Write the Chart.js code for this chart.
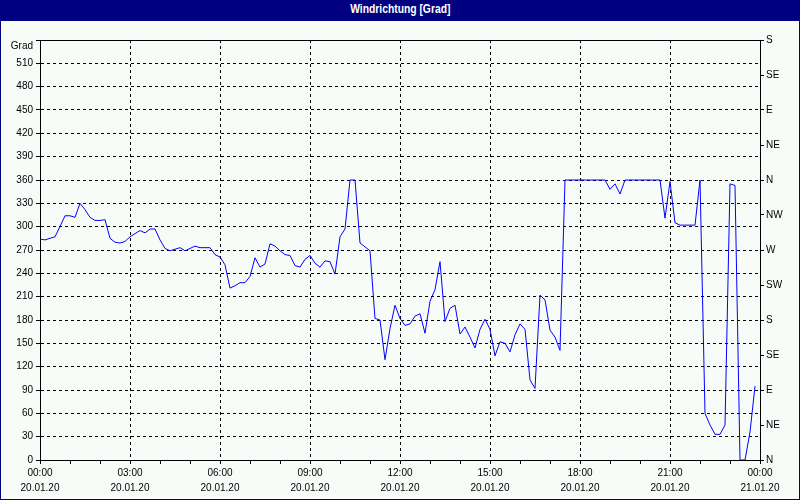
<!DOCTYPE html>
<html><head><meta charset="utf-8">
<script src="https://cdn.jsdelivr.net/npm/chart.js@4"></script>
<style>
html,body{margin:0;padding:0;background:#F8FCF8;}
#wrap{position:relative;width:800px;height:500px;overflow:hidden;background:#F8FCF8;}
#frame{position:absolute;left:0;top:0;width:798px;height:499px;border:1px solid #000080;border-top:none;pointer-events:none;}
#title{position:absolute;left:0;top:0;width:800px;height:21px;background:#000080;color:#fff;font:bold 12px "Liberation Sans",sans-serif;text-align:center;line-height:19px;}
#title span{display:inline-block;transform:scaleX(0.86);transform-origin:50% 50%;}
canvas{position:absolute;left:0;top:0;}
</style></head>
<body>
<div id="wrap"><canvas id="c" width="800" height="500"></canvas><div id="frame"></div><div id="title"><span>Windrichtung [Grad]</span></div></div>
<script>
const timeLabels = [
"00:00","00:10","00:20","00:30","00:40","00:50","01:00","01:10","01:20","01:30","01:40","01:50",
"02:00","02:10","02:20","02:30","02:40","02:50","03:00","03:10","03:20","03:30","03:40","03:50",
"04:00","04:10","04:20","04:30","04:40","04:50","05:00","05:10","05:20","05:30","05:40","05:50",
"06:00","06:10","06:20","06:30","06:40","06:50","07:00","07:10","07:20","07:30","07:40","07:50",
"08:00","08:10","08:20","08:30","08:40","08:50","09:00","09:10","09:20","09:30","09:40","09:50",
"10:00","10:10","10:20","10:30","10:40","10:50","11:00","11:10","11:20","11:30","11:40","11:50",
"12:00","12:10","12:20","12:30","12:40","12:50","13:00","13:10","13:20","13:30","13:40","13:50",
"14:00","14:10","14:20","14:30","14:40","14:50","15:00","15:10","15:20","15:30","15:40","15:50",
"16:00","16:10","16:20","16:30","16:40","16:50","17:00","17:10","17:20","17:30","17:40","17:50",
"18:00","18:10","18:20","18:30","18:40","18:50","19:00","19:10","19:20","19:30","19:40","19:50",
"20:00","20:10","20:20","20:30","20:40","20:50","21:00","21:10","21:20","21:30","21:40","21:50",
"22:00","22:10","22:20","22:30","22:40","22:50","23:00","23:10","23:20","23:30","23:40","23:50",
"00:00"];
const majorTimeLabels = ["00:00","03:00","06:00","09:00","12:00","15:00","18:00","21:00","00:00"];
const dateLabels = ["20.01.20","20.01.20","20.01.20","20.01.20","20.01.20","20.01.20","20.01.20","20.01.20","21.01.20"];
const compassLabels = ["N","NE","E","SE","S","SW","W","NW","N","NE","E","SE","S"];
const windDirection = [
284,283,285,287,300,314,314,312,330,322,312,308,
308,309,285,280,279,281,287,291,295,292,297,297,
283,272,269,271,273,269,272,275,273,273,273,264,
261,251,221,224,228,228,236,260,248,252,278,275,
269,264,263,250,248,258,263,253,248,256,255,239,
287,297,360,360,279,274,269,182,180,129,169,199,
182,173,175,185,188,163,204,219,255,178,195,199,
162,171,158,144,168,181,168,134,152,150,139,161,
175,168,103,92,212,206,167,158,141,360,360,360,
360,360,360,360,360,360,348,355,342,360,360,360,
360,360,360,360,360,311,358,305,302,302,302,302,
360,60,45,33,33,45,355,353,0,0,36,95];

Chart.defaults.font.family = "'Liberation Sans', Arial, sans-serif";
Chart.defaults.font.size = 10;
Chart.defaults.color = '#000';

const frameTop = {
  id: 'frameTop',
  afterDraw(chart) {
    const {ctx, chartArea: a} = chart;
    ctx.save();
    ctx.strokeStyle = '#000';
    ctx.lineWidth = 1;
    ctx.beginPath();
    ctx.moveTo(a.left, a.top + 0.5);
    ctx.lineTo(a.right + 1, a.top + 0.5);
    ctx.stroke();
    ctx.restore();
  }
};

new Chart(document.getElementById('c'), {
  type: 'line',
  data: {
    labels: timeLabels,
    datasets: [{
      data: windDirection,
      borderColor: '#0000FF',
      borderWidth: 1,
      pointRadius: 0,
      tension: 0,
      fill: false
    }]
  },
  options: {
    responsive: false,
    animation: false,
    layout: { padding: { top: 40, left: 0, right: 0, bottom: 0 } },
    plugins: { legend: { display: false }, title: { display: false }, tooltip: { enabled: false } },
    scales: {
      x: {
        type: 'category',
        offset: false,
        afterFit: s => { s.height = 40; },
        grid: {
          color: c => (c.index % 18 === 0 ? '#000' : 'rgba(0,0,0,0)'),
          tickColor: c => (c.index % 6 === 0 ? '#000' : 'rgba(0,0,0,0)'),
          tickLength: 4,
          lineWidth: 1
        },
        border: { color: '#000', dash: [3, 3] },
        ticks: {
          autoSkip: false,
          maxRotation: 0,
          minRotation: 0,
          padding: 2,
          font: { lineHeight: 1.5 },
          callback: (v, i) => (i % 18 === 0 ? [majorTimeLabels[i / 18], dateLabels[i / 18]] : '')
        }
      },
      y: {
        position: 'left',
        min: 0, max: 540,
        afterFit: s => { s.width = 40; },
        grid: { color: '#000', tickLength: 4, lineWidth: 1 },
        border: { color: '#000', dash: [3, 3] },
        ticks: {
          autoSkip: false,
          stepSize: 30,
          padding: 3,
          callback: v => (v === 540 ? ['', 'Grad'] : v)
        }
      },
      y2: {
        position: 'right',
        min: 0, max: 540,
        afterFit: s => { s.width = 40; },
        grid: { drawOnChartArea: false, color: '#000', tickLength: 4 },
        border: { color: '#000' },
        ticks: {
          autoSkip: false,
          stepSize: 45,
          padding: 2,
          callback: (v, i) => compassLabels[i]
        }
      }
    }
  },
  plugins: [frameTop]
});
</script>
</body></html>
